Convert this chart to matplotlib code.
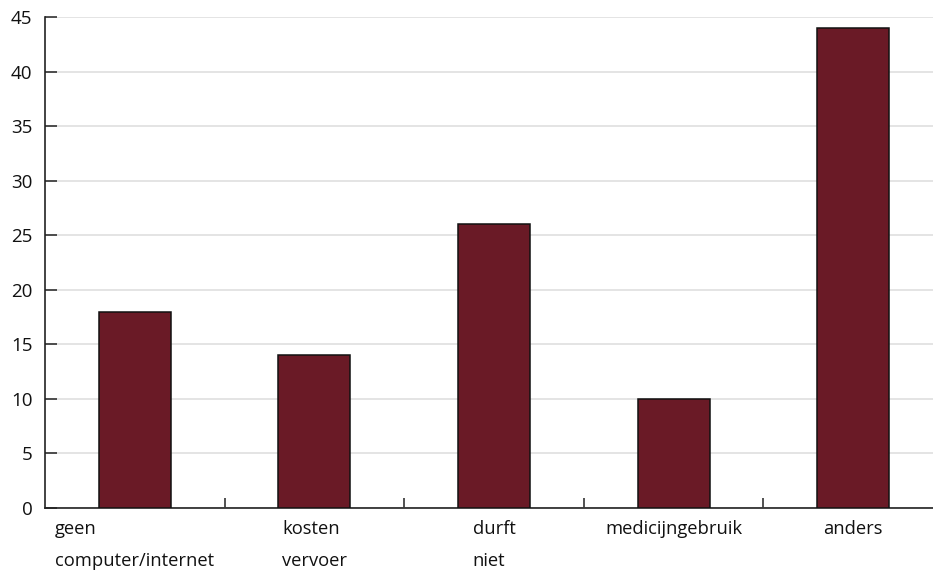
import numpy as np
import matplotlib.pyplot as plt

categories = ["geen\ncomputer/internet", "kosten\nvervoer", "durft\nniet",
              "medicijngebruik", "anders"]
values = [18, 14, 26, 10, 44]
yticks = [0, 5, 10, 15, 20, 25, 30, 35, 40, 45]

plt.rcParams["font.family"] = ["Open Sans", "DejaVu Sans"]

fig = plt.figure(figsize=(9.33, 5.73), dpi=100)
# axes run a bit past the right edge so the last slot is cut off
ax = fig.add_axes([45 / 933, 65 / 573, 898 / 933, 491 / 573])

x = np.arange(len(categories))
ax.bar(x, values, width=0.4, color="#6a1a26", edgecolor="#111111",
       linewidth=1.1, zorder=3)

ax.set_xlim(-0.5, len(categories) - 0.5)
ax.set_ylim(0, 45)
ax.set_yticks(yticks)
ax.yaxis.grid(True, color="#dcdcdc", linewidth=1.1, zorder=0)
ax.set_axisbelow(True)

ax.set_xticks(x)
ax.set_xticklabels(categories, fontsize=13.2, multialignment="left",
                   linespacing=2.0, color="#111111")
ax.set_xticks(x[:-1] + 0.5, minor=True)
ax.tick_params(axis="x", which="major", length=0, pad=9)
ax.tick_params(axis="x", which="minor", direction="in", length=7,
               width=1.1, color="#222222")
ax.tick_params(axis="y", direction="in", length=8.5, width=1.1,
               labelsize=13.5, pad=9, color="#222222", labelcolor="#111111")

for side in ["top", "right"]:
    ax.spines[side].set_visible(False)
for side in ["left", "bottom"]:
    ax.spines[side].set_linewidth(1.2)
    ax.spines[side].set_color("#222222")

fig.savefig("out.png", dpi=100)
